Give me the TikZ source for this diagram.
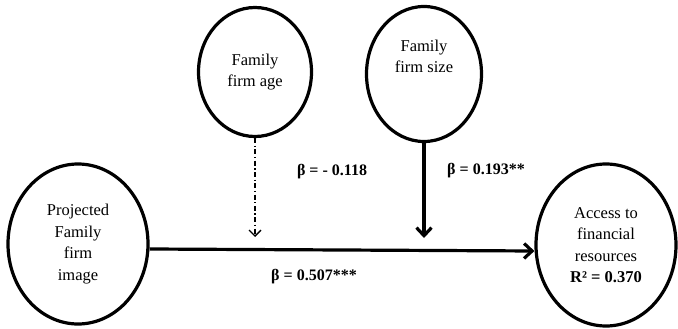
\documentclass[tikz,border=0pt]{standalone}
\usepackage{fontspec}
\setmainfont{Liberation Serif}
\usetikzlibrary{shapes.geometric,arrows.meta}
\begin{document}
\begin{tikzpicture}[x=1pt,y=-1pt,
  var/.style={draw,ellipse,line width=3.2pt,inner sep=0pt,align=center,font=\fontsize{16.5}{21.5}\selectfont},
  lbl/.style={font=\fontsize{16}{19}\selectfont\bfseries,inner sep=0pt},
  mainarrow/.style={line width=3.2pt,-{Straight Barb[length=8pt,width=15pt,line width=3.2pt]}},
  dasharrow/.style={line width=1.3pt,dash pattern=on 5pt off 2.5pt on 1.3pt off 2.5pt,-{Straight Barb[length=6pt,width=12pt,line width=1.3pt]}}]
\useasboundingbox (0,0) rectangle (678,329);
\node[var,minimum width=113pt,minimum height=129pt] (age) at (255,72) {Family\\firm age};
\node[var,minimum width=115pt,minimum height=135pt] (size) at (424,74) {Family\\firm size\\[14pt]};
\node[var,minimum width=140pt,minimum height=160pt] (proj) at (78,244) {Projected\\Family\\firm\\image};
\node[var,minimum width=140pt,minimum height=162pt] (acc) at (606,245) {Access to\\financial\\resources\\\textbf{R² = 0.370}};
\coordinate (agehit) at (255,237);
\coordinate (sizehit) at (424,238);
\draw[mainarrow] ([yshift=-5pt]proj.east) -- ([yshift=-6pt]acc.west);
\draw[dasharrow] (age.south) -- (agehit);
\draw[mainarrow] (size.south) -- (sizehit);
\node[lbl] (l1) at (332,172) {β = - 0.118};
\node[lbl] (l2) at (486,171) {β = 0.193**};
\node[lbl] (l3) at (314,277) {β = 0.507***};
\end{tikzpicture}
\end{document}
